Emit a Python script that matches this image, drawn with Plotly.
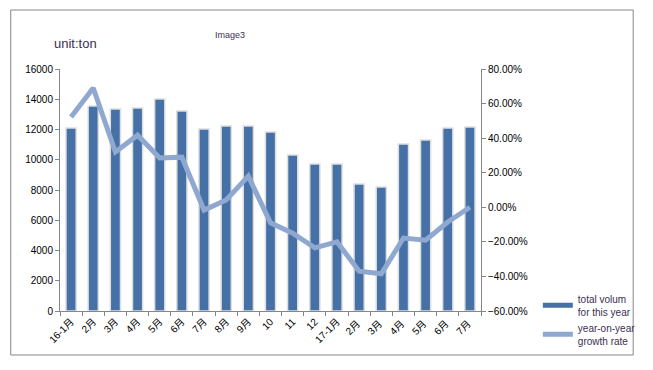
import plotly.graph_objects as go

categories = ["16-1月", "2月", "3月", "4月", "5月", "6月", "7月", "8月", "9月", "10", "11", "12",
              "17-1月", "2月 ", "3月 ", "4月 ", "5月 ", "6月 ", "7月 "]
volume = [12100, 13550, 13350, 13420, 14020, 13220, 12030, 12230, 12230, 11830, 10310, 9720,
          9720, 8400, 8200, 11040, 11300, 12100, 12170]
growth = [0.522, 0.69, 0.32, 0.417, 0.285, 0.29, -0.016, 0.042, 0.18, -0.09, -0.15, -0.235,
          -0.20, -0.37, -0.385, -0.178, -0.19, -0.085, 0.0]

FONT = "Liberation Sans, Noto Sans CJK SC, sans-serif"
TXT = "#3b3050"
BAR = "#4671a7"

fig = go.Figure()
fig.add_trace(go.Bar(
    x=categories, y=volume, name="total volum<br>for this year",
    marker=dict(color=BAR, line=dict(color="#dedede", width=1.5)),
    yaxis="y", showlegend=False,
))
fig.add_trace(go.Scatter(
    x=[None], y=[None], name="total volum<br>for this year",
    mode="lines", line=dict(color=BAR, width=5), yaxis="y", showlegend=True,
))
fig.add_trace(go.Scatter(
    x=categories, y=growth, name="year-on-year<br>growth rate",
    mode="lines", line=dict(color="#8ea8d0", width=5),
    yaxis="y2",
))

fig.update_layout(
    width=645, height=362,
    margin=dict(l=52, r=167, t=61, b=59),
    paper_bgcolor="white", plot_bgcolor="white",
    font=dict(family=FONT, size=10, color="black"),
    bargap=0.54,
    showlegend=True,
    legend=dict(x=1.135, y=0.104, xanchor="left", yanchor="top",
                font=dict(size=10, color=TXT), tracegroupgap=6,
                itemwidth=30, bgcolor="rgba(0,0,0,0)"),
    xaxis=dict(type="category", tickangle=-45, showline=True, linecolor="#868686",
               ticks="outside", tickson="boundaries", ticklen=4, tickcolor="#868686",
               showgrid=False, tickfont=dict(size=10), automargin=False),
    yaxis=dict(range=[0, 16000], dtick=2000, tickformat="d", showline=True,
               linecolor="#868686", ticks="outside", ticklen=4, tickcolor="#868686",
               showgrid=False, zeroline=False, tickfont=dict(size=10), automargin=False),
    yaxis2=dict(range=[-0.6, 0.8], dtick=0.2, tickformat=".2%", overlaying="y",
                side="right", showline=True, linecolor="#868686", ticks="outside",
                ticklen=4, tickcolor="#868686", showgrid=False, zeroline=False,
                tickfont=dict(size=10), automargin=False),
    shapes=[dict(type="rect", xref="paper", yref="paper",
                 x0=-0.117, x1=1.3615, y0=-0.1818, y1=1.2438,
                 line=dict(color="#868686", width=1))],
    annotations=[
        dict(text="unit:ton", xref="paper", yref="paper", x=-0.02, y=1.105,
             xanchor="left", yanchor="middle", showarrow=False,
             font=dict(size=13, color=TXT)),
        dict(text="Image3", xref="paper", yref="paper", x=0.363, y=1.14,
             xanchor="left", yanchor="middle", showarrow=False,
             font=dict(size=9, color=TXT)),
    ],
)

fig.write_html("out.html")
